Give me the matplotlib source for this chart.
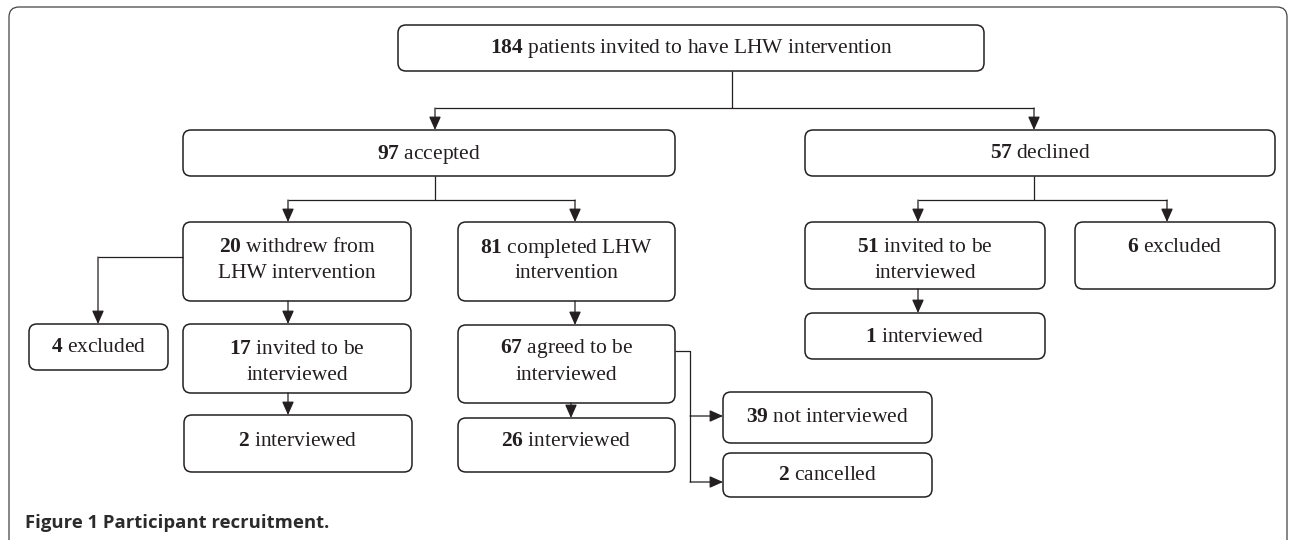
import matplotlib
matplotlib.use("Agg")
import matplotlib.pyplot as plt
from matplotlib.patches import FancyBboxPatch

plt.rcParams['mathtext.fontset'] = 'custom'
plt.rcParams['mathtext.rm'] = 'Liberation Serif'
plt.rcParams['mathtext.bf'] = 'Liberation Serif:bold'

# flowchart content
counts = [184, 97, 57, 20, 81, 51, 6, 4, 17, 67, 1, 2, 26, 39, 2]
labels = [
    "patients invited to have LHW intervention",
    "accepted",
    "declined",
    "withdrew from\nLHW intervention",
    "completed LHW\nintervention",
    "invited to be\ninterviewed",
    "excluded",
    "excluded",
    "invited to be\ninterviewed",
    "agreed to be\ninterviewed",
    "interviewed",
    "interviewed",
    "interviewed",
    "not interviewed",
    "cancelled",
]
caption = "Figure 1 Participant recruitment."

# layout in pixels (x0, y0, x1, y1, first text line y)
boxes = [
    (398, 25, 984, 71, 49),
    (183, 130, 675, 176, 154),
    (805, 130, 1275, 176, 154),
    (183, 222, 411, 301, 248),
    (458, 222, 675, 301, 248),
    (805, 222, 1045, 289, 248),
    (1075, 222, 1275, 289, 248),
    (29, 324, 168, 370, 348),
    (183, 324, 411, 393, 349),
    (458, 325, 675, 403, 349),
    (805, 313, 1045, 359, 337),
    (184, 415, 412, 472, 442),
    (458, 418, 675, 472, 442),
    (723, 392, 932, 443, 418),
    (723, 453, 932, 497, 476),
]

# plain segments and arrow segments
lines = [
    [(732, 71), (732, 108)], [(435, 108), (1034, 108)],
    [(435, 176), (435, 200)], [(288, 200), (575, 200)],
    [(1034, 176), (1034, 200)], [(918, 200), (1167, 200)],
    [(183, 257), (98, 257)],
    [(675, 351), (690, 351), (690, 482)],
]
arrows = [
    ((435, 108), (435, 130)), ((1034, 108), (1034, 130)),
    ((288, 200), (288, 222)), ((575, 200), (575, 222)),
    ((918, 200), (918, 222)), ((1167, 200), (1167, 222)),
    ((98, 257), (98, 324)),
    ((288, 301), (288, 324)), ((288, 393), (288, 415)),
    ((575, 301), (575, 325)), ((571, 403), (571, 418)),
    ((690, 416), (723, 416)), ((690, 482), (723, 482)),
    ((918, 289), (918, 313)),
]

ink = "#231f20"

fig = plt.figure(figsize=(12.9, 5.4), dpi=100)
ax = fig.add_axes([0, 0, 1, 1])
ax.set_xlim(0, 1290)
ax.set_ylim(540, 0)
ax.axis("off")

# outer frame, open at the bottom
ax.add_patch(FancyBboxPatch((9, 7), 1278, 560, boxstyle="round,pad=0,rounding_size=10",
                            fc="none", ec="#444444", lw=0.9))

for (x0, y0, x1, y1, ty), n, lab in zip(boxes, counts, labels):
    ax.add_patch(FancyBboxPatch((x0, y0), x1 - x0, y1 - y0,
                                boxstyle="round,pad=0,rounding_size=8",
                                fc="white", ec=ink, lw=1.1))
    parts = lab.split("\n")
    parts[0] = r"$\mathbf{%d}$ " % n + parts[0]
    for i, p in enumerate(parts):
        ax.text((x0 + x1) / 2, ty + i * 26, p, ha="center", va="center",
                fontsize=15.5, family="Liberation Serif", color=ink)

for seg in lines:
    xs, ys = zip(*seg)
    ax.plot(xs, ys, color=ink, lw=0.9, solid_capstyle="butt")

for a, b in arrows:
    ax.annotate("", xy=b, xytext=a,
                arrowprops=dict(arrowstyle="-|>,head_length=0.45,head_width=0.2",
                                color=ink, lw=0.9, shrinkA=0, shrinkB=0,
                                mutation_scale=18))

ax.text(25, 523, caption, ha="left", va="center", fontsize=13.3,
        family="Open Sans", weight="bold", color="#2b2b2b")

fig.savefig("out.png", dpi=100)
